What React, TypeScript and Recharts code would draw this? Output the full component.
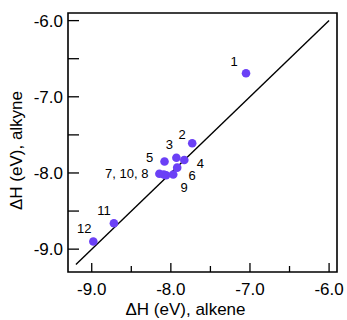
import { ScatterChart, Scatter, XAxis, YAxis, ReferenceLine, ReferenceArea } from 'recharts';

// compound numbers and their ΔH values (eV)
const ids = ['1', '2', '3', '4', '5', '6', '7', '8', '9', '10', '11', '12'];
const alkene = [-7.05, -7.73, -7.93, -7.83, -8.08, -7.92, -8.145, -8.06, -7.97, -8.09, -8.72, -8.98];
const alkyne = [-6.69, -7.61, -7.8, -7.83, -7.85, -7.93, -8.01, -8.03, -8.02, -8.02, -8.66, -8.9];
const pointLabels = ['1', '2', '3', '4', '5', '6', '7, 10, 8', '', '9', '', '11', '12'];

const axisTicks = [-9, -8.5, -8, -7.5, -7, -6.5, -6];
const axisDomain = [-9.3, -5.9];
const parityLine = [-9.2, -6.0];

// label placement relative to dot centre: dx, dy, anchor
const labelOffsets: [number, number, string][] = [
  [-12, -12, 'middle'],
  [-10, -9, 'middle'],
  [-7, -13, 'middle'],
  [16, 3, 'middle'],
  [-15, -4, 'middle'],
  [15, 8, 'middle'],
  [-11, 0, 'end'],
  [0, 0, 'middle'],
  [11, 13, 'middle'],
  [0, 0, 'middle'],
  [-10, -13, 'middle'],
  [-9, -13, 'middle'],
];

const data = ids.map((id, i) => ({ id, x: alkene[i], y: alkyne[i], label: pointLabels[i], idx: i }));

const FONT = '"Liberation Sans", Arial, sans-serif';
const DOT = '#6b40f6';

const isMajor = (v: number) => Math.abs(v - Math.round(v)) < 1e-6;

function XTick(props: any) {
  const { x, y, payload } = props;
  const v = payload.value as number;
  const major = isMajor(v);
  return (
    <g>
      <line x1={x} x2={x} y1={y} y2={y - (major ? 9 : 6)} stroke="#000" strokeWidth={1.3} />
      {major && (
        <text x={x} y={y + 23} textAnchor="middle" fontSize={17} fontFamily={FONT} fill="#000">
          {v.toFixed(1)}
        </text>
      )}
    </g>
  );
}

function YTick(props: any) {
  const { x, y, payload } = props;
  const v = payload.value as number;
  const major = isMajor(v);
  return (
    <g>
      <line x1={x} x2={x + 11} y1={y} y2={y} stroke="#000" strokeWidth={1.3} />
      {major && (
        <text x={x - 5} y={y} dy="0.36em" textAnchor="end" fontSize={17} fontFamily={FONT} fill="#000">
          {v.toFixed(1)}
        </text>
      )}
    </g>
  );
}

function Dot(props: any) {
  const { cx, cy, payload } = props;
  const [dx, dy, anchor] = labelOffsets[payload.idx];
  return (
    <g>
      <circle cx={cx} cy={cy} r={4.3} fill={DOT} />
      {payload.label && (
        <text
          x={cx + dx}
          y={cy + dy}
          dy="0.36em"
          textAnchor={anchor as any}
          fontSize={13}
          fontFamily={FONT}
          fill="#000"
        >
          {payload.label}
        </text>
      )}
    </g>
  );
}

export default function App() {
  return (
    <div style={{ position: 'absolute', left: 0, top: 0, width: 347, height: 320, background: '#fff' }}>
      <ScatterChart width={347} height={320} margin={{ top: 13, right: 10, bottom: 0, left: 0 }}>
        <XAxis
          type="number"
          dataKey="x"
          domain={axisDomain}
          ticks={axisTicks}
          allowDataOverflow
          axisLine={false}
          tickLine={false}
          tickSize={0}
          tickMargin={0}
          height={48}
          tick={XTick}
          label={(p: any) => {
            const vb = p.viewBox;
            return (
              <text x={vb.x + vb.width / 2 - 17} y={vb.y + 43} textAnchor="middle" fontSize={17} fontFamily={FONT} fill="#000">
                ΔH (eV), alkene
              </text>
            );
          }}
        />
        <YAxis
          type="number"
          dataKey="y"
          domain={axisDomain}
          ticks={axisTicks}
          allowDataOverflow
          axisLine={false}
          tickLine={false}
          tickSize={0}
          tickMargin={0}
          width={68}
          tick={YTick}
          label={(p: any) => {
            const vb = p.viewBox;
            const cy = vb.y + vb.height / 2 + 8;
            return (
              <text x={22} y={cy} transform={`rotate(-90, 22, ${cy})`} textAnchor="middle" fontSize={17} fontFamily={FONT} fill="#000">
                ΔH (eV), alkyne
              </text>
            );
          }}
        />
        <ReferenceArea
          x1={axisDomain[0]}
          x2={axisDomain[1]}
          y1={axisDomain[0]}
          y2={axisDomain[1]}
          fill="none"
          stroke="#000"
          strokeWidth={1.6}
        />
        <ReferenceLine
          segment={[
            { x: parityLine[0], y: parityLine[0] },
            { x: parityLine[1], y: parityLine[1] },
          ]}
          stroke="#000"
          strokeWidth={1.4}
        />
        <Scatter data={data} shape={Dot} isAnimationActive={false} />
      </ScatterChart>
    </div>
  );
}
